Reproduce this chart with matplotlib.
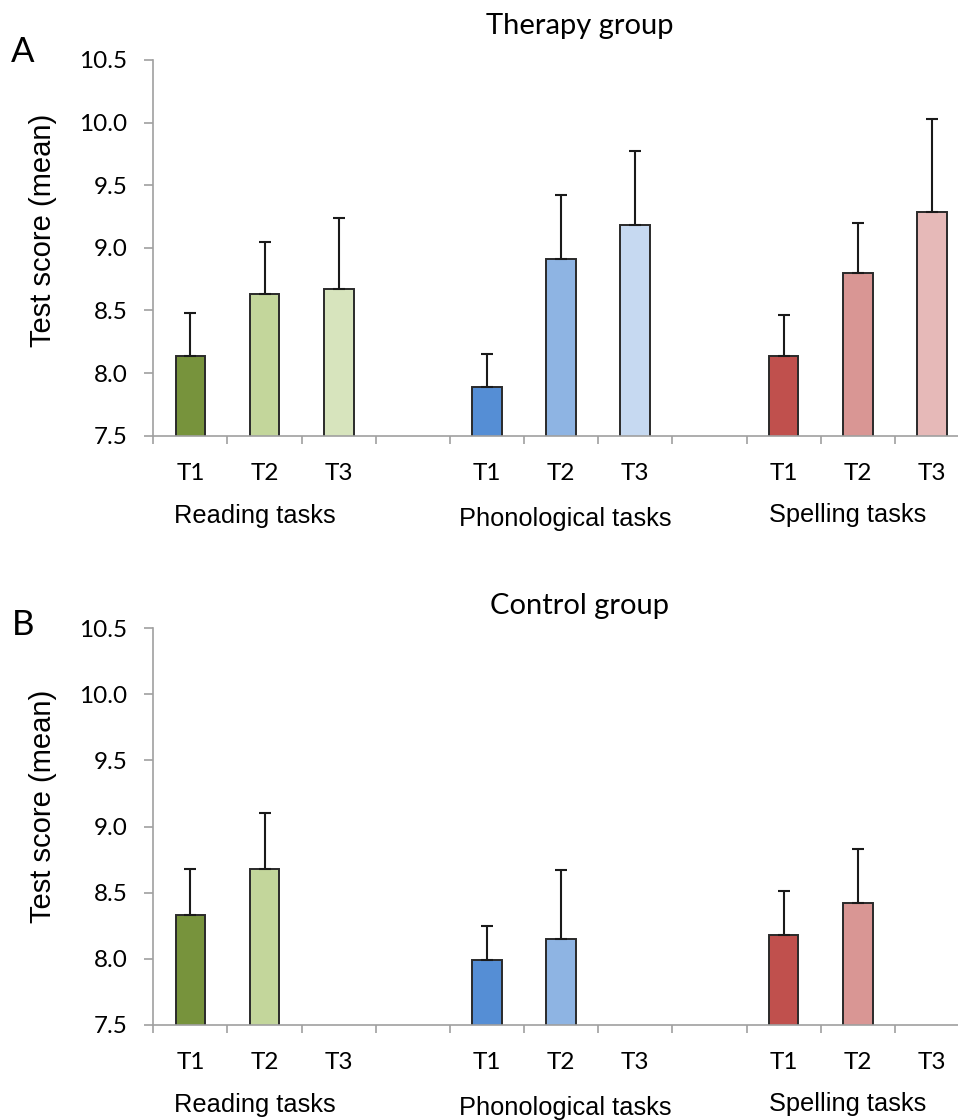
import numpy as np
import matplotlib
matplotlib.use("Agg")
import matplotlib.pyplot as plt
from matplotlib.transforms import offset_copy

# ---------------- data ----------------
times = ["T1", "T2", "T3"]
groups = ["Reading tasks", "Phonological tasks", "Spelling tasks"]

therapy_reading = [8.14, 8.63, 8.67]
therapy_phon = [7.89, 8.91, 9.18]
therapy_spell = [8.14, 8.80, 9.29]
therapy_reading_err = [0.34, 0.42, 0.57]
therapy_phon_err = [0.26, 0.51, 0.59]
therapy_spell_err = [0.32, 0.40, 0.74]

control_reading = [8.33, 8.68, np.nan]
control_phon = [7.99, 8.15, np.nan]
control_spell = [8.18, 8.42, np.nan]
control_reading_err = [0.35, 0.42, np.nan]
control_phon_err = [0.26, 0.52, np.nan]
control_spell_err = [0.33, 0.41, np.nan]

yticks = [7.5, 8.0, 8.5, 9.0, 9.5, 10.0, 10.5]

colors = {
    "Reading tasks": ["#77933C", "#C3D69B", "#D7E4BD"],
    "Phonological tasks": ["#558ED5", "#8EB4E3", "#C6D9F1"],
    "Spelling tasks": ["#C0504D", "#D99694", "#E6B9B8"],
}

CAL = "Lato"
ARIAL = "Liberation Sans"

W, H = 958, 1120
fig = plt.figure(figsize=(W / 100, H / 100), dpi=100)


def px_axes(left, top, right, bottom):
    return fig.add_axes([left / W, 1 - bottom / H, (right - left) / W, (bottom - top) / H])


group_dx = [-10, 4, -10]   # pixel shift of the group labels


def draw_panel(ax, means_list, errs_list, title, title_y, letter, letter_y, ylabel_y, group_dy):
    for gi, (g, means, errs) in enumerate(zip(groups, means_list, errs_list)):
        xs = np.arange(3) + gi * 4
        for j in range(3):
            m = means[j]
            e = errs[j]
            if not np.isnan(m):
                ax.bar(xs[j], m, width=0.4, color=colors[g][j], edgecolor="#2a2a2a",
                       linewidth=1.4, zorder=2)
                ax.errorbar(xs[j], m, yerr=[[0], [e]], fmt="none", ecolor="#1a1a1a",
                            elinewidth=1.5, capsize=4, capthick=1.5, zorder=3)
            trans = offset_copy(ax.get_xaxis_transform(), fig=fig, x=0, y=-38, units="dots")
            ax.text(xs[j], 0, times[j], transform=trans, ha="center", va="center",
                    fontsize=17.5, family=CAL)
        trans = offset_copy(ax.get_xaxis_transform(), fig=fig, x=group_dx[gi],
                            y=-80 - group_dy[gi], units="dots")
        ax.text(xs[1], 0, g, transform=trans, ha="center", va="center",
                fontsize=18.3, family=ARIAL)

    ax.set_xlim(-0.5, 10.5)
    ax.set_ylim(7.5, 10.5)
    ax.set_xticks(np.arange(-0.5, 11, 1.0))
    ax.set_xticklabels([])
    ax.set_yticks(yticks)
    ax.set_yticklabels([f"{v:.1f}" for v in yticks], fontsize=17.5, family=CAL)
    for s in ["top", "right"]:
        ax.spines[s].set_visible(False)
    for s in ["left", "bottom"]:
        ax.spines[s].set_color("#a0a0a0")
        ax.spines[s].set_linewidth(1.2)
    ax.tick_params(axis="y", length=6.5, width=1.2, color="#a0a0a0", pad=12)
    ax.tick_params(axis="x", length=6, width=1.2, color="#a0a0a0")

    fig.text(580 / W, 1 - title_y / H, title, ha="center", va="center", fontsize=21, family=CAL)
    fig.text(23 / W, 1 - letter_y / H, letter, ha="center", va="center", fontsize=25, family=CAL)
    fig.text(43 / W, 1 - ylabel_y / H, "Test score (mean)", ha="center", va="center",
             rotation=90, fontsize=21, family=ARIAL)


ax1 = px_axes(153.3, 60, 969, 435.7)
draw_panel(ax1,
           [therapy_reading, therapy_phon, therapy_spell],
           [therapy_reading_err, therapy_phon_err, therapy_spell_err],
           "Therapy group", 26, "A", 52, 230, [0, 3, -1])

ax2 = px_axes(153.3, 628.3, 969, 1024.7)
draw_panel(ax2,
           [control_reading, control_phon, control_spell],
           [control_reading_err, control_phon_err, control_spell_err],
           "Control group", 606, "B", 625, 806, [0, 3, -1])

fig.savefig("out.png", dpi=100)
